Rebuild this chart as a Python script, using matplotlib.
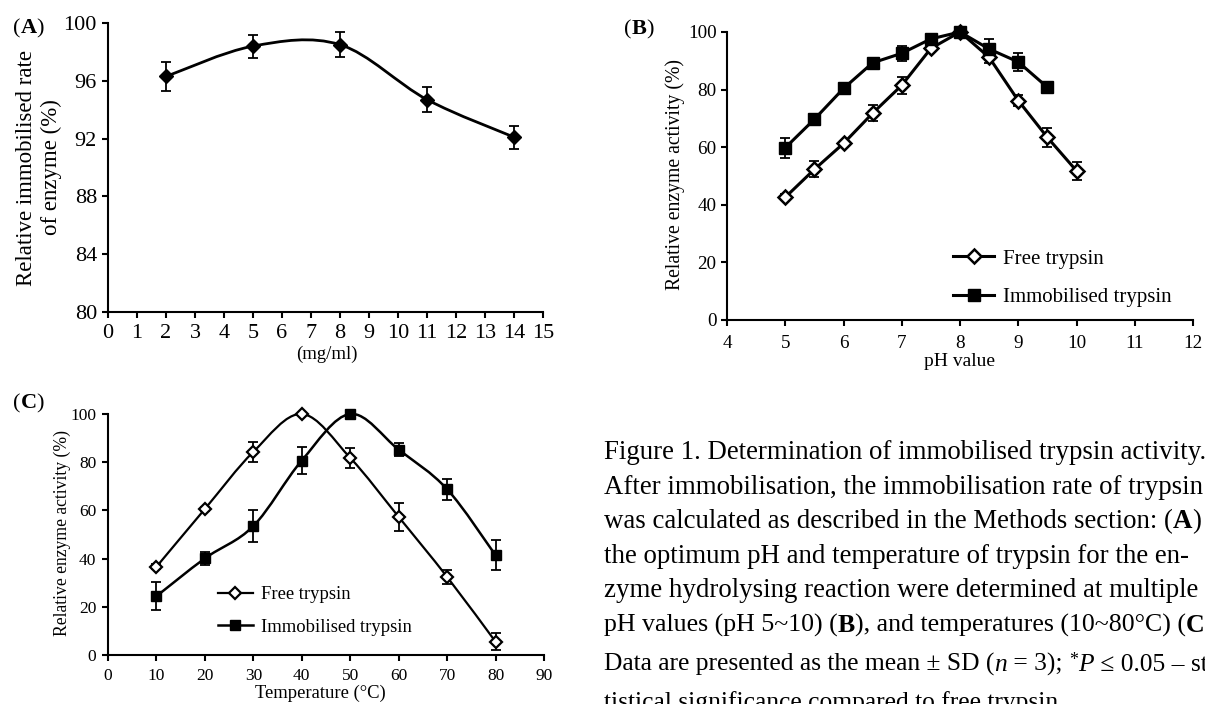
import numpy as np
import matplotlib
matplotlib.use('Agg')
import matplotlib.pyplot as plt
from matplotlib.path import Path
from matplotlib.patches import PathPatch
from matplotlib.lines import Line2D
from matplotlib.font_manager import FontProperties

plt.rcParams['font.family'] = ['Liberation Serif', 'DejaVu Serif']

# ---------------- data ----------------
conc_mg_ml = [2, 5, 8, 11, 14]
immob_rate = [96.3, 98.4, 98.5, 94.7, 92.1]
immob_rate_sd = [1.0, 0.8, 0.85, 0.85, 0.8]

ph_values = [5, 5.5, 6, 6.5, 7, 7.5, 8, 8.5, 9, 9.5, 10]
ph_free = [42.6, 52.3, 61.3, 71.8, 81.5, 94.3, 100, 91.2, 76.2, 63.4, 51.8]
ph_free_sd = [1.0, 2.8, 1.0, 2.8, 3.0, 1.0, 1.0, 2.0, 2.0, 3.4, 3.1]
ph_immob_x = [5, 5.5, 6, 6.5, 7, 7.5, 8, 8.5, 9, 9.5]
ph_immob = [59.8, 69.7, 80.4, 89.3, 92.6, 97.6, 100, 94.1, 89.6, 80.8]
ph_immob_sd = [3.5, 1.5, 1.0, 1.0, 2.7, 1.0, 1.0, 3.4, 3.0, 1.0]

temps = [10, 20, 30, 40, 50, 60, 70, 80]
temp_free = [36.6, 60.6, 84.3, 100, 81.8, 57.3, 32.4, 5.5]
temp_free_sd = [1.0, 1.0, 4.1, 0.5, 4.1, 5.9, 2.8, 3.5]
temp_immob = [24.4, 40.1, 53.5, 80.7, 100, 85.2, 68.8, 41.4]
temp_immob_sd = [5.7, 2.8, 6.6, 5.4, 1.0, 2.8, 4.3, 6.2]

legend_labels = ['Free trypsin', 'Immobilised trypsin']

W, H = 1205, 704
fig = plt.figure(figsize=(W / 100, H / 100), dpi=100)


def ax_at(left, top, right, bottom):
    return fig.add_axes([left / W, 1 - bottom / H, (right - left) / W, (bottom - top) / H])


def style_ax(ax, fs, padx, pady, tlen):
    for s in ['top', 'right']:
        ax.spines[s].set_visible(False)
    for s in ['left', 'bottom']:
        ax.spines[s].set_linewidth(1.5)
    ax.tick_params(direction='out', length=tlen, width=1.5, labelsize=fs, colors='k')
    ax.tick_params(axis='x', pad=padx)
    ax.tick_params(axis='y', pad=pady)


def smooth_path(x, y):
    P = np.column_stack([x, y]).astype(float)
    n = len(P)
    verts = [P[0]]
    codes = [Path.MOVETO]
    for i in range(n - 1):
        p0 = P[i - 1] if i > 0 else P[i]
        p3 = P[i + 2] if i + 2 < n else P[i + 1]
        c1 = P[i] + (P[i + 1] - p0) / 6.0
        c2 = P[i + 1] - (p3 - P[i]) / 6.0
        verts += [c1, c2, P[i + 1]]
        codes += [Path.CURVE4] * 3
    return Path(verts, codes)


eb_kw = dict(fmt='none', ecolor='k', elinewidth=1.3, capsize=3.8, capthick=1.3)

# ---------------- panel A ----------------
axA = ax_at(108, 23, 543, 312)
axA.errorbar(conc_mg_ml, immob_rate, yerr=immob_rate_sd, zorder=2, **eb_kw)
axA.add_patch(PathPatch(smooth_path(conc_mg_ml, immob_rate), fill=False, lw=2.0,
                        edgecolor='k', transform=axA.transData, zorder=3, clip_on=False))
axA.plot(conc_mg_ml, immob_rate, ls='none', marker='D', ms=7.6, color='k', zorder=4)
axA.set_xlim(0, 15)
axA.set_ylim(80, 100)
axA.set_xticks(range(0, 16))
axA.set_yticks(range(80, 101, 4))
style_ax(axA, 16, 4.5, 3.5, 4.5)
axA.set_ylabel('Relative immobilised rate\nof enzyme (%)', fontsize=16.5, va='center')
axA.yaxis.set_label_coords(-0.159, 0.5)
axA.set_xlabel('(mg/ml)', fontsize=13.5, va='center')
axA.xaxis.set_label_coords(0.503, -0.145)

# ---------------- panel B ----------------
axB = ax_at(727, 32, 1193, 320)
axB.errorbar(ph_values, ph_free, yerr=ph_free_sd, zorder=2, **eb_kw)
axB.errorbar(ph_immob_x, ph_immob, yerr=ph_immob_sd, zorder=2, **eb_kw)
lb1, = axB.plot(ph_values, ph_free, color='k', lw=2.2, marker='D', ms=7.0, mfc='white',
                mec='k', mew=1.8, zorder=3, label=legend_labels[0], clip_on=False)
lb2, = axB.plot(ph_immob_x, ph_immob, color='k', lw=2.2, marker='s', ms=8.6, mfc='k',
                mec='k', mew=1.0, zorder=4, label=legend_labels[1], clip_on=False)
axB.set_xlim(4, 12)
axB.set_ylim(0, 100)
axB.set_xticks(range(4, 13))
axB.set_yticks(range(0, 101, 20))
style_ax(axB, 13.8, 6, 3, 4.5)
axB.set_ylabel('Relative enzyme activity (%)', fontsize=14.2, va='center')
axB.yaxis.set_label_coords(-0.112, 0.505)
axB.set_xlabel('pH value', fontsize=14, va='center')
axB.xaxis.set_label_coords(0.5, -0.145)
axB.legend(handles=[lb1, lb2], loc='upper left', bbox_to_anchor=(953 / W, 1 - 249 / H),
           bbox_transform=fig.transFigure, frameon=False, fontsize=15, borderpad=0,
           borderaxespad=0, handlelength=1.97, handletextpad=0.43, labelspacing=0.91,
           numpoints=1)

# ---------------- panel C ----------------
axC = ax_at(108, 414, 544, 655)
axC.errorbar(temps, temp_free, yerr=temp_free_sd, zorder=2, **eb_kw)
axC.errorbar(temps, temp_immob, yerr=temp_immob_sd, zorder=2, **eb_kw)
axC.add_patch(PathPatch(smooth_path(temps, temp_free), fill=False, lw=1.6,
                        edgecolor='k', transform=axC.transData, zorder=3, clip_on=False))
axC.plot(temps, temp_free, ls='none', marker='D', ms=6.4, mfc='white', mec='k', mew=1.6,
         zorder=4, clip_on=False)
axC.add_patch(PathPatch(smooth_path(temps, temp_immob), fill=False, lw=1.8,
                        edgecolor='k', transform=axC.transData, zorder=5, clip_on=False))
axC.plot(temps, temp_immob, ls='none', marker='s', ms=7.4, mfc='k', mec='k', mew=1.0,
         zorder=6, clip_on=False)
axC.set_xlim(0, 90)
axC.set_ylim(0, 100)
axC.set_xticks(range(0, 91, 10))
axC.set_yticks(range(0, 101, 20))
style_ax(axC, 12.5, 4.5, 4, 4.5)
axC.set_ylabel('Relative enzyme activity (%)', fontsize=12.7, va='center')
axC.yaxis.set_label_coords(-0.105, 0.506)
axC.set_xlabel('Temperature (°C)', fontsize=13.4, va='center')
axC.xaxis.set_label_coords(0.488, -0.16)
hC1 = Line2D([], [], color='k', lw=1.6, marker='D', ms=6.4, mfc='white', mec='k', mew=1.6)
hC2 = Line2D([], [], color='k', lw=1.8, marker='s', ms=7.4, mfc='k', mec='k', mew=1.0)
axC.legend(handles=[hC1, hC2], labels=legend_labels, loc='upper left',
           bbox_to_anchor=(218 / W, 1 - 586 / H), bbox_transform=fig.transFigure,
           frameon=False, fontsize=13.4, borderpad=0, borderaxespad=0, handlelength=1.88,
           handletextpad=0.43, labelspacing=0.83, numpoints=1)

# ---------------- rich text helper ----------------
renderer = fig.canvas.get_renderer()


def seg_width(s, prop):
    w1 = renderer.get_text_width_height_descent('|' + s + '|', prop, ismath=False)[0]
    w0 = renderer.get_text_width_height_descent('||', prop, ismath=False)[0]
    return w1 - w0


def draw_segments(x, y, segments, size):
    for seg in segments:
        text, weight, style = seg[0], seg[1], seg[2]
        dy = seg[3] if len(seg) > 3 else 0
        scale = seg[4] if len(seg) > 4 else 1.0
        prop = FontProperties(family=['Liberation Serif', 'DejaVu Serif'], size=size * scale,
                              weight=weight, style=style)
        fig.text(x / W, 1 - (y - dy) / H, text, fontproperties=prop, ha='left', va='baseline')
        x += seg_width(text, prop)


# panel letters
for (px, py, letter) in [(13, 33, 'A'), (624, 34, 'B'), (13, 408, 'C')]:
    draw_segments(px, py, [('(', 'normal', 'normal'), (letter, 'bold', 'normal'),
                           (')', 'normal', 'normal')], 16)

# caption
cap_x = 604
R, B_, I_ = 'normal', 'bold', 'italic'
caption_lines = [
    (459, 19.4, [('Figure 1. Determination of immobilised trypsin activity.', R, R)]),
    (494, 19.4, [('After immobilisation, the immobilisation rate of trypsin', R, R)]),
    (528, 19.4, [('was calculated as described in the Methods section: (', R, R), ('A', B_, R), (')', R, R)]),
    (563, 19.4, [('the optimum pH and temperature of trypsin for the en-', R, R)]),
    (597, 19.4, [('zyme hydrolysing reaction were determined at multiple', R, R)]),
    (632, 18.6, [('pH values (pH 5~10) (', R, R), ('B', B_, R), ('), and temperatures (10~80°C) (', R, R),
                 ('C', B_, R), (')', R, R)]),
    (671, 18.4, [('Data are presented as the mean ± SD (', R, R), ('n', R, I_), (' = 3); ', R, R),
                 ('*', R, R, 6, 0.7), ('P', R, I_), (' ≤ 0.05 – sta-', R, R)]),
    (709, 18.4, [('tistical significance compared to free trypsin', R, R)]),
]
for y, size, segs in caption_lines:
    draw_segments(cap_x, y, segs, size)

fig.savefig('out.png', dpi=100)
